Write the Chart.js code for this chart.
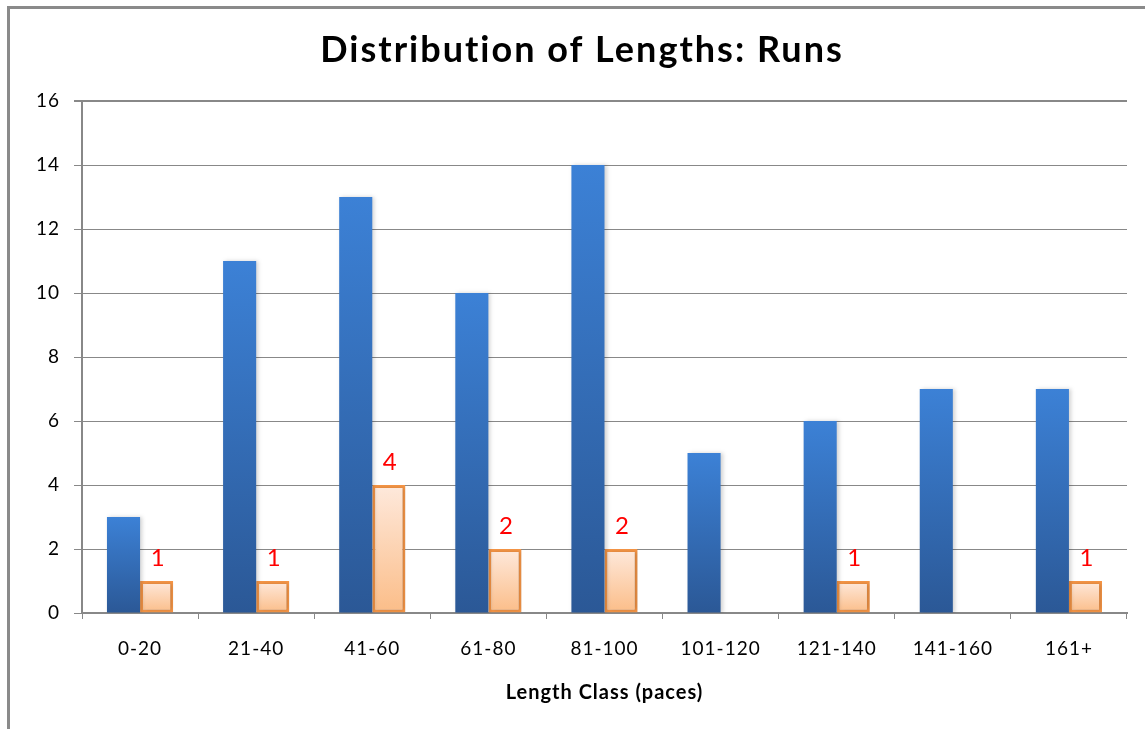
<!DOCTYPE html>
<html>
<head>
<meta charset="utf-8">
<script src="https://cdn.jsdelivr.net/npm/chart.js@4/dist/chart.umd.min.js"></script>
<style>
  html, body { margin: 0; padding: 0; background: #fff; }
  #wrap { position: relative; width: 1145px; height: 729px; }
</style>
</head>
<body>
<div id="wrap"><canvas id="c" width="1145" height="729"></canvas></div>
<script>
const categories = ["0-20", "21-40", "41-60", "61-80", "81-100", "101-120", "121-140", "141-160", "161+"];
const seriesA = [3, 11, 13, 10, 14, 5, 6, 7, 7];
const seriesB = [1, 1, 4, 2, 2, 0, 1, 0, 1];
const yTicks = [0, 2, 4, 6, 8, 10, 12, 14, 16];
const chartTitle = "Distribution of Lengths: Runs";
const xTitle = "Length Class (paces)";

const FONT = "Lato, 'Open Sans', sans-serif";

function barGradient(c, top, bottom) {
  const chart = c.chart;
  if (!chart.chartArea || !c.parsed) return bottom;
  const ys = chart.scales.y;
  const y0 = ys.getPixelForValue(c.parsed.y);
  const y1 = ys.getPixelForValue(0);
  const g = chart.ctx.createLinearGradient(0, y0, 0, y1 + 0.01);
  g.addColorStop(0, top);
  g.addColorStop(1, bottom);
  return g;
}

function setSpacing(chart) {
  if ('letterSpacing' in chart.ctx) chart.ctx.letterSpacing = '1px';
}

const framePlugin = {
  id: 'frame',
  beforeUpdate(chart) { setSpacing(chart); },
  beforeDraw(chart) {
    setSpacing(chart);
    const ctx = chart.ctx;
    ctx.save();
    ctx.fillStyle = '#ffffff';
    ctx.fillRect(0, 0, chart.width, chart.height);
    ctx.strokeStyle = '#8a8a8a';
    ctx.lineWidth = 3;
    ctx.beginPath();
    ctx.moveTo(8.5, chart.height);
    ctx.lineTo(8.5, 7.5);
    ctx.lineTo(chart.width, 7.5);
    ctx.stroke();
    ctx.restore();
  },
  afterDraw(chart) {
    const ctx = chart.ctx;
    ctx.save();
    if ('letterSpacing' in ctx) ctx.letterSpacing = '2px';
    ctx.fillStyle = '#000000';
    ctx.font = "bold 36px " + FONT;
    ctx.textAlign = 'center';
    ctx.textBaseline = 'middle';
    ctx.fillText(chartTitle, 582, 50);
    ctx.restore();
  }
};

const shadowPlugin = {
  id: 'shadow',
  beforeDatasetDraw(chart) {
    const ctx = chart.ctx;
    ctx.save();
    ctx.shadowColor = 'rgba(0,0,0,0.18)';
    ctx.shadowBlur = 4;
    ctx.shadowOffsetX = 2;
    ctx.shadowOffsetY = 0;
  },
  afterDatasetDraw(chart) {
    chart.ctx.restore();
  }
};

const labelPlugin = {
  id: 'valLabels',
  afterDatasetsDraw(chart) {
    const ctx = chart.ctx;
    const meta = chart.getDatasetMeta(1);
    ctx.save();
    if ('letterSpacing' in ctx) ctx.letterSpacing = '0px';
    ctx.fillStyle = '#ff0000';
    ctx.font = "24px " + FONT;
    ctx.textAlign = 'center';
    ctx.textBaseline = 'alphabetic';
    meta.data.forEach((el, i) => {
      const v = seriesB[i];
      if (v > 0) ctx.fillText(String(v), el.x + 1, el.y - 15);
    });
    ctx.restore();
  }
};

new Chart(document.getElementById('c'), {
  type: 'bar',
  data: {
    labels: categories,
    datasets: [
      {
        label: 'A',
        data: seriesA,
        backgroundColor: (c) => barGradient(c, '#3c81d6', '#2b5896'),
        borderWidth: 0,
        categoryPercentage: 0.57,
        barPercentage: 1.0
      },
      {
        label: 'B',
        data: seriesB,
        backgroundColor: (c) => barGradient(c, '#fee9dc', '#fbbd88'),
        borderColor: '#f79646',
        borderWidth: 3,
        borderSkipped: false,
        categoryPercentage: 0.57,
        barPercentage: 1.0
      }
    ]
  },
  options: {
    responsive: false,
    animation: false,
    devicePixelRatio: 1,
    layout: { padding: { left: 0, right: 18, top: 101, bottom: 0 } },
    plugins: {
      legend: { display: false },
      tooltip: { enabled: false },
      title: { display: false }
    },
    scales: {
      x: {
        offset: true,
        grid: {
          display: true,
          drawOnChartArea: false,
          drawTicks: true,
          tickLength: 6,
          color: '#888888',
          offset: true
        },
        border: { display: true, color: '#888888', width: 2 },
        ticks: {
          color: '#000000',
          font: { family: FONT, size: 19 },
          padding: 18,
          maxRotation: 0
        },
        title: {
          display: true,
          text: xTitle,
          color: '#000000',
          font: { family: FONT, size: 20, weight: 'bold' },
          padding: { top: 0, bottom: 24 }
        },
        afterFit(scale) { scale.height = 116; }
      },
      y: {
        min: 0,
        max: 16,
        afterBuildTicks(scale) { scale.ticks = yTicks.map(v => ({ value: v })); },
        grid: {
          color: '#888888',
          lineWidth: (c) => (c.tick && c.tick.value === 16 ? 2 : 1),
          drawTicks: true,
          tickLength: 8
        },
        border: { display: true, color: '#888888', width: 2 },
        ticks: {
          color: '#000000',
          font: { family: FONT, size: 19 },
          padding: 14
        },
        afterFit(scale) { scale.width = 82; }
      }
    }
  },
  plugins: [framePlugin, shadowPlugin, labelPlugin]
});
</script>
</body>
</html>
